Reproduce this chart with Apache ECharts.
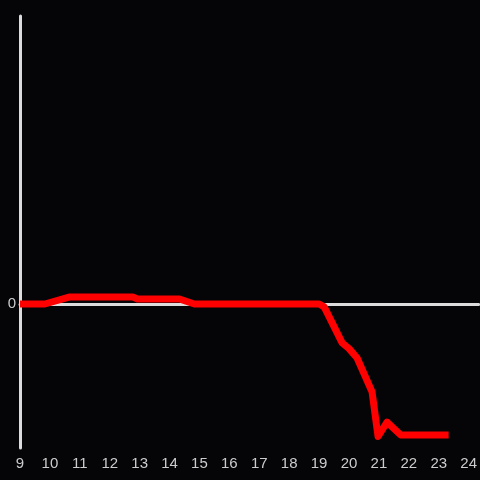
<!DOCTYPE html>
<html>
<head>
<meta charset="utf-8">
<script src="https://cdn.jsdelivr.net/npm/echarts@6/dist/echarts.min.js"></script>
<style>
  html, body { margin: 0; padding: 0; background: #050407; }
  #chart { width: 480px; height: 480px; }
</style>
</head>
<body>
<div id="chart"></div>
<script>
// hours of the day and the value at each point
const hours = [9.0, 9.83, 10.67, 12.77, 12.93, 14.33, 14.83, 19.0, 19.17, 19.77, 20.0, 20.27, 20.77, 20.97, 21.27, 21.73, 23.33]
const values = [0, 0, 0.049, 0.049, 0.035, 0.035, 0, 0, -0.02, -0.27, -0.31, -0.375, -0.61, -0.92, -0.82, -0.91, -0.91]

const axisColor = '#dcdcdc'
const labelColor = '#cccccc'

let chart = echarts.init(document.getElementById('chart'))

const option = {
  backgroundColor: '#050407',
  animation: false,
  grid: { left: 20, right: 0, top: 16, bottom: 32 },
  xAxis: [
    {
      type: 'value',
      min: 9,
      max: 24 + 1 / 3,
      interval: 1,
      axisLine: { onZero: false, show: false },
      axisTick: { show: false },
      splitLine: { show: false },
      axisLabel: {
        color: labelColor,
        fontSize: 15,
        fontFamily: 'Liberation Sans, sans-serif',
        showMaxLabel: false,
        margin: 8
      }
    },
    {
      // zero line
      type: 'value',
      min: 9,
      max: 24 + 1 / 3,
      interval: 1,
      axisLine: { onZero: true, lineStyle: { color: axisColor, width: 3 } },
      axisTick: { show: false },
      axisLabel: { show: false },
      splitLine: { show: false }
    }
  ],
  yAxis: {
    type: 'value',
    min: -1,
    max: 2,
    interval: 1,
    axisLine: { show: true, lineStyle: { color: axisColor, width: 3 } },
    axisTick: { show: false },
    splitLine: { show: false },
    axisLabel: {
      color: labelColor,
      fontSize: 15,
      fontFamily: 'Liberation Sans, sans-serif',
      margin: 4,
      formatter: v => (v === 0 ? '0' : '')
    }
  },
  series: [
    {
      type: 'line',
      data: hours.map((h, i) => [h, values[i]]),
      showSymbol: false,
      z: 5,
      lineStyle: { color: '#ff0000', width: 7, join: 'round', cap: 'butt' }
    }
  ]
}

chart.setOption(option)
</script>
</body>
</html>
